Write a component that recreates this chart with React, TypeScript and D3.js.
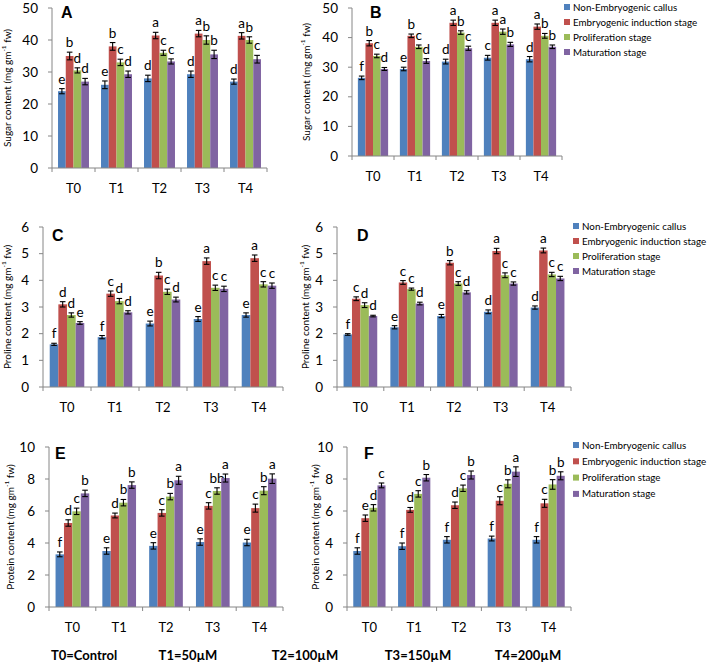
import React from "react";
import * as d3 from "d3";

const categories = ["T0", "T1", "T2", "T3", "T4"];
const seriesNames = [
  "Non-Embryogenic callus",
  "Embryogenic induction stage",
  "Proliferation stage",
  "Maturation stage",
];
const seriesColors = ["#4F81BD", "#C0504D", "#9BBB59", "#8064A2"];

// Panel A – sugar
const sugarA = [
  [24, 26, 28, 29.3, 27],
  [35, 38, 41.4, 42, 41.3],
  [30.5, 33, 36, 40, 40],
  [27, 29.3, 33.3, 35.5, 34],
];
const sugarAErr = [
  [0.8, 1.2, 1.0, 1.0, 0.8],
  [1.2, 1.2, 1.0, 1.0, 1.0],
  [0.8, 1.0, 0.8, 1.3, 1.0],
  [1.0, 1.0, 0.8, 1.3, 1.2],
];
const sugarALetters = [
  ["e", "e", "d", "d", "d"],
  ["b", "b", "a", "a", "a"],
  ["d", "c", "c", "b", "b"],
  ["d", "d", "c", "b", "c"],
];

// Panel B – sugar
const sugarB = [
  [26.4, 29.4, 31.9, 33.2, 32.7],
  [38.1, 40.6, 45, 45, 43.7],
  [33.8, 36.9, 41.7, 42, 40.6],
  [29.4, 32.1, 36.4, 37.7, 36.9],
];
const sugarBErr = [
  [0.6, 0.6, 0.8, 0.8, 0.9],
  [0.9, 0.6, 0.9, 0.9, 0.9],
  [0.6, 0.6, 0.6, 0.9, 0.8],
  [0.5, 0.8, 0.7, 0.7, 0.6],
];
const sugarBLetters = [
  ["f", "e", "d", "c", "d"],
  ["b", "b", "a", "a", "a"],
  ["c", "c", "b", "a", "b"],
  ["d", "d", "c", "b", "b"],
];

// Panel C – proline
const prolineC = [
  [1.6, 1.87, 2.38, 2.55, 2.7],
  [3.1, 3.5, 4.18, 4.72, 4.83],
  [2.7, 3.22, 3.57, 3.72, 3.85],
  [2.4, 2.8, 3.28, 3.68, 3.8],
];
const prolineCErr = [
  [0.04, 0.06, 0.09, 0.09, 0.08],
  [0.1, 0.1, 0.12, 0.12, 0.12],
  [0.08, 0.1, 0.1, 0.1, 0.1],
  [0.05, 0.06, 0.09, 0.1, 0.1],
];
const prolineCLetters = [
  ["f", "f", "e", "e", "e"],
  ["d", "c", "b", "a", "a"],
  ["d", "d", "c", "c", "c"],
  ["e", "d", "d", "c", "c"],
];

// Panel D – proline
const prolineD = [
  [1.97, 2.24, 2.66, 2.82, 2.98],
  [3.31, 3.92, 4.66, 5.1, 5.12],
  [3.07, 3.67, 3.88, 4.19, 4.22],
  [2.66, 3.13, 3.55, 3.88, 4.07],
];
const prolineDErr = [
  [0.03, 0.06, 0.06, 0.07, 0.06],
  [0.07, 0.07, 0.08, 0.1, 0.09],
  [0.09, 0.04, 0.07, 0.09, 0.08],
  [0.03, 0.05, 0.06, 0.06, 0.08],
];
const prolineDLetters = [
  ["f", "e", "e", "d", "d"],
  ["c", "c", "b", "a", "a"],
  ["d", "c", "c", "c", "c"],
  ["d", "d", "d", "c", "c"],
];

// Panel E – protein
const proteinE = [
  [3.29, 3.5, 3.82, 4.06, 4.03],
  [5.25, 5.72, 5.88, 6.32, 6.18],
  [5.98, 6.52, 6.9, 7.25, 7.27],
  [7.1, 7.62, 7.92, 8.06, 8.02],
];
const proteinEErr = [
  [0.15, 0.2, 0.2, 0.2, 0.2],
  [0.2, 0.15, 0.2, 0.2, 0.25],
  [0.2, 0.2, 0.2, 0.2, 0.25],
  [0.2, 0.2, 0.25, 0.25, 0.3],
];
const proteinELetters = [
  ["f", "e", "e", "e", "e"],
  ["d", "d", "c", "c", "c"],
  ["c", "b", "b", "bb", "b"],
  ["b", "b", "a", "a", "a"],
];

// Panel F – protein
const proteinF = [
  [3.5, 3.8, 4.2, 4.28, 4.2],
  [5.55, 6.07, 6.36, 6.64, 6.48],
  [6.2, 7.07, 7.42, 7.7, 7.66],
  [7.6, 8.08, 8.25, 8.46, 8.2],
];
const proteinFErr = [
  [0.2, 0.2, 0.2, 0.15, 0.2],
  [0.2, 0.15, 0.2, 0.25, 0.25],
  [0.2, 0.2, 0.2, 0.25, 0.3],
  [0.15, 0.2, 0.25, 0.3, 0.25],
];
const proteinFLetters = [
  ["f", "f", "f", "f", "f"],
  ["e", "d", "d", "c", "c"],
  ["d", "c", "c", "b", "b"],
  ["c", "b", "b", "a", "b"],
];

const treatmentNotes = ["T0=Control", "T1=50µM", "T2=100µM", "T3=150µM", "T4=200µM"];

type PanelCfg = {
  id: string;
  values: number[][];
  errs: number[][];
  letters: string[][];
  yMax: number;
  yStep: number;
  yLabel: string;
  x0: number;
  x1: number;
  yTop: number;
  yBase: number;
  labelX: number;
  tagX: number;
  tagY: number;
  legend?: { x: number; y: number; dy: number };
};

const panels: PanelCfg[] = [
  { id: "A", values: sugarA, errs: sugarAErr, letters: sugarALetters, yMax: 50, yStep: 10, yLabel: "Sugar content",
    x0: 52, x1: 267, yTop: 8, yBase: 168, labelX: 8, tagX: 61, tagY: 18 },
  { id: "B", values: sugarB, errs: sugarBErr, letters: sugarBLetters, yMax: 50, yStep: 10, yLabel: "Sugar content",
    x0: 352, x1: 562, yTop: 8, yBase: 156, labelX: 307, tagX: 370, tagY: 18,
    legend: { x: 564, y: 7, dy: 15 } },
  { id: "C", values: prolineC, errs: prolineCErr, letters: prolineCLetters, yMax: 6, yStep: 1, yLabel: "Proline content ",
    x0: 43, x1: 283, yTop: 227, yBase: 387, labelX: 8, tagX: 52, tagY: 241 },
  { id: "D", values: prolineD, errs: prolineDErr, letters: prolineDLetters, yMax: 6, yStep: 1, yLabel: "Proline content ",
    x0: 337, x1: 571, yTop: 227, yBase: 387, labelX: 306, tagX: 357, tagY: 241,
    legend: { x: 573, y: 226, dy: 15 } },
  { id: "E", values: proteinE, errs: proteinEErr, letters: proteinELetters, yMax: 10, yStep: 2, yLabel: "Protein content",
    x0: 49, x1: 283, yTop: 447, yBase: 607, labelX: 11, tagX: 55, tagY: 459 },
  { id: "F", values: proteinF, errs: proteinFErr, letters: proteinFLetters, yMax: 10, yStep: 2, yLabel: "Protein content",
    x0: 347, x1: 571, yTop: 447, yBase: 607, labelX: 316, tagX: 364, tagY: 459,
    legend: { x: 573, y: 445, dy: 16.3 } },
];

const FONT = "Lato, 'Open Sans', sans-serif";
const AXIS = "#868686";

function Panel({ p }: { p: PanelCfg }) {
  const x = d3.scaleBand<string>().domain(categories).range([p.x0, p.x1]).paddingInner(0.28).paddingOuter(0.14);
  const xs = d3.scaleBand<number>().domain(d3.range(seriesNames.length)).range([0, x.bandwidth()]);
  const y = d3.scaleLinear().domain([0, p.yMax]).range([p.yBase, p.yTop]);
  const ticks = d3.range(0, p.yMax + p.yStep / 2, p.yStep);
  const step = x.step();
  const boundaries = d3.range(categories.length + 1).map((i) => p.x0 + i * step);
  const midY = (p.yBase + p.yTop) / 2;
  return (
    <g>
      {p.values.map((ser, si) =>
        ser.map((v, ci) => {
          const bx = (x(categories[ci]) as number) + (xs(si) as number);
          const bw = xs.bandwidth();
          const top = y(v);
          const eTop = y(v + p.errs[si][ci]);
          const eBot = y(v - p.errs[si][ci]);
          const cx = bx + bw / 2;
          return (
            <g key={`${si}-${ci}`}>
              <rect x={bx} y={top} width={bw} height={p.yBase - top} fill={seriesColors[si]} />
              <line x1={cx} x2={cx} y1={eTop} y2={eBot} stroke="#000" strokeWidth={1.1} />
              <line x1={cx - 2.8} x2={cx + 2.8} y1={eTop} y2={eTop} stroke="#000" strokeWidth={1.1} />
              <line x1={cx - 2.8} x2={cx + 2.8} y1={eBot} y2={eBot} stroke="#000" strokeWidth={1.1} />
              <text x={cx} y={eTop - 5} textAnchor="middle" fontFamily={FONT} fontSize={13.5} fill="#000">
                {p.letters[si][ci]}
              </text>
            </g>
          );
        })
      )}
      <line x1={p.x0} x2={p.x0} y1={p.yTop} y2={p.yBase} stroke={AXIS} strokeWidth={1} />
      {ticks.map((t) => (
        <g key={t}>
          <line x1={p.x0 - 4} x2={p.x0} y1={y(t)} y2={y(t)} stroke={AXIS} strokeWidth={1} />
          <text x={p.x0 - 14} y={y(t) + 4.5} textAnchor="end" fontFamily={FONT} fontSize={13.5} fill="#000">
            {t}
          </text>
        </g>
      ))}
      <line x1={p.x0} x2={p.x1} y1={p.yBase} y2={p.yBase} stroke={AXIS} strokeWidth={1} />
      {boundaries.map((bx, i) => (
        <line key={i} x1={bx} x2={bx} y1={p.yBase} y2={p.yBase + 4} stroke={AXIS} strokeWidth={1} />
      ))}
      {categories.map((c) => (
        <text key={c} x={(x(c) as number) + x.bandwidth() / 2} y={p.yBase + 25} textAnchor="middle"
          fontFamily={FONT} fontSize={13} fill="#000">
          {c}
        </text>
      ))}
      <text transform={`translate(${p.labelX},${midY}) rotate(-90)`} textAnchor="middle" dominantBaseline="middle"
        fontFamily={FONT} fontSize={10} fill="#000">
        {p.yLabel} (mg gm<tspan fontSize={6.5} dy={-4}>-1</tspan><tspan dy={4}> fw)</tspan>
      </text>
      <text x={p.tagX} y={p.tagY} fontFamily="'Liberation Sans', Arial, sans-serif" fontWeight="bold" fontSize={16} fill="#000">
        {p.id}
      </text>
      {p.legend &&
        seriesNames.map((n, i) => (
          <g key={n}>
            <rect x={p.legend!.x} y={p.legend!.y + i * p.legend!.dy - 3} width={6} height={6} fill={seriesColors[i]} />
            <text x={p.legend!.x + 9} y={p.legend!.y + i * p.legend!.dy + 3.5} fontFamily={FONT} fontSize={9.8} fill="#000">
              {n}
            </text>
          </g>
        ))}
    </g>
  );
}

const noteX = [84, 188, 305, 418, 528];

export default function App() {
  return (
    <svg width={709} height={665} style={{ position: "absolute", left: 0, top: 0, background: "#fff" }}>
      <rect x={0} y={0} width={709} height={665} fill="#fff" />
      {panels.map((p) => (
        <Panel key={p.id} p={p} />
      ))}
      {treatmentNotes.map((t, i) => (
        <text key={t} x={noteX[i]} y={660} textAnchor="middle" fontFamily={FONT} fontWeight="bold" fontSize={13} fill="#000">
          {t}
        </text>
      ))}
    </svg>
  );
}
